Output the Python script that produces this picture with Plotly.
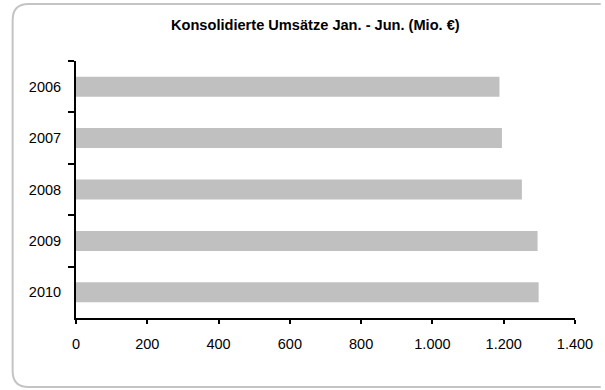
import plotly.graph_objects as go

years = ["2006", "2007", "2008", "2009", "2010"]
umsatz = [1188, 1195, 1251, 1295, 1298]
x_ticks = [0, 200, 400, 600, 800, 1000, 1200, 1400]

W, H = 605, 390
L, R, T, B = 76, 580, 61, 318

def px(x):
    return (x - L) / (R - L)

def py(y):
    return (B - y) / (B - T)

fig = go.Figure(go.Bar(
    y=years, x=umsatz, orientation="h",
    marker=dict(color="#c0c0c0", line=dict(width=0)),
    width=0.39, hoverinfo="x+y"
))

# rounded frame, open on the right (it runs off the page in the original)
x0, y0, x1, y1, r = 12, 4, 606, 387, 16
path = (f"M {px(x1)},{py(y0)} "
        f"L {px(x0 + r)},{py(y0)} "
        f"Q {px(x0)},{py(y0)} {px(x0)},{py(y0 + r)} "
        f"L {px(x0)},{py(y1 - r)} "
        f"Q {px(x0)},{py(y1)} {px(x0 + r)},{py(y1)} "
        f"L {px(x1)},{py(y1)}")

fig.update_layout(
    width=W, height=H,
    margin=dict(l=L, r=W - R, t=T, b=H - B),
    paper_bgcolor="white", plot_bgcolor="white",
    separators=",.",
    font=dict(family="Liberation Sans, Arial, sans-serif", size=14.5, color="black"),
    showlegend=False,
    shapes=[dict(type="path", path=path, xref="paper", yref="paper",
                 line=dict(color="#c4c4c4", width=2), layer="below")],
    annotations=[dict(text="<b>Konsolidierte Umsätze Jan. - Jun. (Mio. €)</b>",
                      x=px(317.5), y=py(25), xref="paper", yref="paper",
                      showarrow=False, xanchor="center", yanchor="middle",
                      font=dict(size=14.6, color="black"))],
    xaxis=dict(range=[0, 1400], tickvals=x_ticks, tickformat=",d",
               showgrid=False, zeroline=False, showline=True,
               linecolor="black", linewidth=2, ticks="outside",
               ticklen=4, tickwidth=2, tickcolor="black",
               fixedrange=True, ticklabelstandoff=8),
    yaxis=dict(categoryorder="array", categoryarray=years, autorange="reversed",
               showgrid=False, zeroline=False, showline=True,
               linecolor="black", linewidth=2, ticks="outside",
               tickson="boundaries", ticklen=6, tickwidth=2, tickcolor="black",
               fixedrange=True, ticklabelstandoff=10),
)

fig.write_html("out.html", config={"displayModeBar": False},
               post_script="document.body.style.margin='0';document.body.style.overflow='hidden';")
